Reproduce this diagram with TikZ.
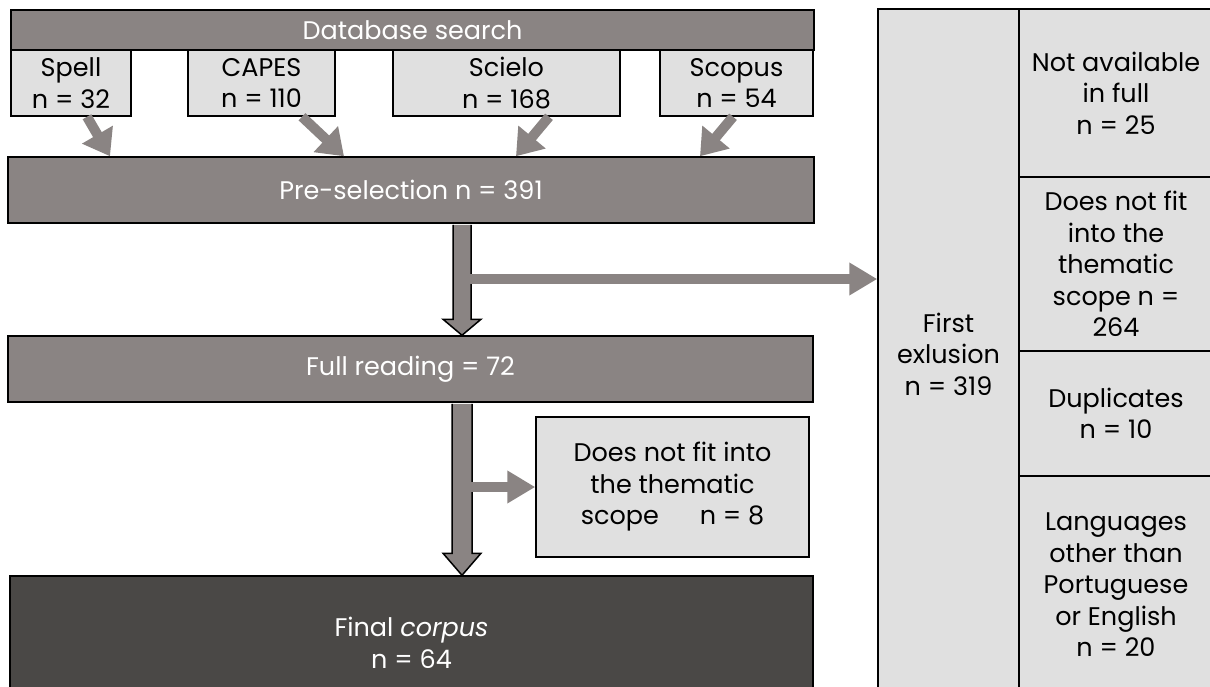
\documentclass[tikz,border=0pt]{standalone}
\usepackage{fontspec}
\setmainfont{Poppins}
\usetikzlibrary{arrows.meta,calc}
\definecolor{midgray}{HTML}{8A8483}
\definecolor{lightgray}{HTML}{E0E0E0}
\definecolor{darkgray}{HTML}{4A4846}
\tikzset{
  box/.style={draw=black, line width=1.5pt, rectangle, inner sep=0pt, align=center,
              font=\fontsize{25.5}{31.5}\selectfont},
  midbox/.style={box, fill=midgray, text=white},
  lightbox/.style={box, fill=lightgray, text=black},
  darkbox/.style={box, fill=darkgray, text=white},
  diagarrow/.style={draw=midgray, line width=10pt, -{Triangle[width=34pt,length=25pt]}},
  sidearrow/.style={draw=midgray, line width=10pt, -{Triangle[width=31pt,length=28pt]}},
  blockarrow/.style={fill=midgray, draw=black, line width=1.5pt, line join=miter},
}
\begin{document}
\begin{tikzpicture}[x=1pt,y=-1pt]
\useasboundingbox (0,0) rectangle (1210,686);
% left column
\node[midbox, minimum width=803, minimum height=40] (db) at (412.5,30) {Database search};
\node[lightbox, minimum width=120, minimum height=66] (spell) at (71,83) {Spell\\n = 32};
\node[lightbox, minimum width=147, minimum height=66] (capes) at (261.5,83) {CAPES\\n = 110};
\node[lightbox, minimum width=227, minimum height=66] (scielo) at (506.5,83) {Scielo\\n = 168};
\node[lightbox, minimum width=153, minimum height=66] (scopus) at (736.5,83) {Scopus\\n = 54};
\node[midbox, minimum width=806, minimum height=66] (pre) at (411,190) {Pre-selection n = 391};
\node[midbox, minimum width=805, minimum height=66] (full) at (410.5,369) {Full reading = 72};
\node[lightbox, minimum width=273, minimum height=140] (dnf) at (672.5,487)
  {Does not fit into\\the thematic\\scope\hspace{1.6em}n = 8};
\node[darkbox, minimum width=803, minimum height=134] (final) at (411.5,643)
  {Final \textit{corpus}\\n = 64};
% right column
\node[lightbox, minimum width=141, minimum height=690] (first) at (948.5,354)
  {First\\exlusion\\n = 319};
\node[lightbox, minimum width=194, minimum height=168] (na) at (1116,93)
  {Not available\\in full\\n = 25};
\node[lightbox, minimum width=194, minimum height=174] (dnf2) at (1116,264)
  {Does not fit\\into the\\thematic\\scope n =\\264};
\node[lightbox, minimum width=194, minimum height=125] (dup) at (1116,413.5)
  {Duplicates\\n = 10};
\node[lightbox, minimum width=194, minimum height=218] (lang) at (1116,585)
  {Languages\\other than\\Portuguese\\or English\\n = 20};
% diagonal arrows
\draw[diagarrow] ($(spell.south)+(16,0)$) -- ($(pre.north)+(-301,0)$);
\draw[diagarrow] ($(capes.south)+(40.5,0)$) -- ($(pre.north)+(-67,0)$);
\draw[diagarrow] ($(scielo.south)+(42.5,0)$) -- ($(pre.north)+(105,0)$);
\draw[diagarrow] ($(scopus.south)+(-3.5,0)$) -- ($(pre.north)+(289,0)$);
% spine
\coordinate (spine) at (462,0);
\coordinate (h1) at (462,279);
\coordinate (h2) at (462,487);
\draw[blockarrow]
  ($(pre.south -| spine)+(-9,1)$) -- ($(full.north -| spine)+(-9,-16)$)
  -- ($(full.north -| spine)+(-19,-16)$) -- (full.north -| spine)
  -- ($(full.north -| spine)+(19,-16)$) -- ($(full.north -| spine)+(9,-16)$)
  -- ($(pre.south -| spine)+(9,1)$);
\draw[blockarrow]
  ($(full.south -| spine)+(-10,1)$) -- ($(final.north -| spine)+(-10,-22)$)
  -- ($(final.north -| spine)+(-19,-22)$) -- (final.north -| spine)
  -- ($(final.north -| spine)+(19,-22)$) -- ($(final.north -| spine)+(10,-22)$)
  -- ($(full.south -| spine)+(10,1)$);
\draw[sidearrow] (h1) -- (h1 -| first.west);
\draw[sidearrow] (h2) -- (dnf.west);
\end{tikzpicture}
\end{document}
